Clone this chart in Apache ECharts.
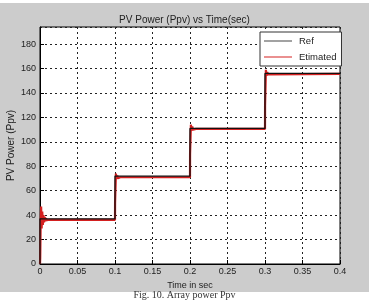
<!DOCTYPE html>
<html>
<head>
<meta charset="utf-8">
<script src="https://cdn.jsdelivr.net/npm/echarts@6/dist/echarts.min.js"></script>
<style>
  html, body { margin: 0; padding: 0; background: #fff; }
  #chart { width: 369px; height: 300px; }
</style>
</head>
<body>
<div id="chart"></div>
<script>
// reference power: step changes every 0.1 s
const refTime = [0, 0, 0.1, 0.1, 0.2, 0.2, 0.3, 0.3, 0.4]
const refPower = [0, 37, 37, 72, 72, 111, 111, 156, 156]

// estimated power: overshoot and ringing after each step
const estTime = [
  0, 0.0003, 0.0008, 0.0015, 0.0022, 0.003, 0.0038, 0.0046, 0.0054, 0.0062, 0.007, 0.008, 0.009, 0.011, 0.013,
  0.1, 0.1001, 0.1012, 0.102, 0.103, 0.104, 0.105, 0.107,
  0.2, 0.2001, 0.2012, 0.202, 0.203, 0.204, 0.206, 0.208,
  0.3, 0.3001, 0.3012, 0.302, 0.303, 0.304, 0.306, 0.4
]
const estPower = [
  0, 5, 30, 47, 29, 43, 32, 40, 34, 38.5, 35, 37.5, 35.8, 36.8, 36.2,
  36.2, 50, 74, 69.5, 72.5, 70.3, 71.6, 71,
  71, 90, 114, 109, 112.5, 110, 111, 110.6,
  110.6, 130, 159, 154, 157, 155.2, 155.7, 155.7
]

const xTicks = ['0', '0.05', '0.1', '0.15', '0.2', '0.25', '0.3', '0.35', '0.4']

const chart = echarts.init(document.getElementById('chart'))
const font = 'Liberation Sans, Arial, sans-serif'

chart.setOption({
  animation: false,
  backgroundColor: 'transparent',
  graphic: [{
    type: 'rect',
    z: -10,
    shape: { x: 0, y: 3, width: 369, height: 289 },
    style: { fill: '#cccccc' }
  }],
  title: [
    {
      text: 'PV Power (Ppv) vs Time(sec)',
      left: 'center',
      top: 10,
      textStyle: { fontFamily: font, fontSize: 10, fontWeight: 'normal', color: '#222' }
    },
    {
      text: 'Fig. 10. Array power Ppv',
      left: 'center',
      top: 290,
      padding: 0,
      textStyle: { fontFamily: 'Liberation Serif, serif', fontSize: 10, fontWeight: 'normal', color: '#333' }
    }
  ],
  legend: {
    orient: 'vertical',
    left: 260,
    top: 32,
    padding: [4, 5, 4, 4],
    icon: 'rect',
    itemWidth: 28,
    itemHeight: 1,
    itemGap: 6,
    backgroundColor: '#fff',
    borderColor: '#333',
    borderWidth: 1,
    textStyle: { fontFamily: font, fontSize: 9.5, color: '#222', padding: [0, 0, 0, 2] },
    data: ['Ref', 'Etimated']
  },
  grid: {
    left: 40, right: 29, top: 27, bottom: 36,
    outerBoundsMode: 'none',
    show: true,
    backgroundColor: '#fff',
    borderColor: '#000',
    borderWidth: 1
  },
  xAxis: {
    type: 'value',
    min: 0,
    max: 0.4,
    interval: 0.05,
    name: 'Time in sec',
    nameLocation: 'middle',
    nameGap: 17,
    nameMoveOverlap: false,
    nameTextStyle: { fontFamily: font, fontSize: 9, color: '#222' },
    axisLine: { show: true, lineStyle: { color: '#000', width: 1 } },
    axisTick: { show: true, inside: true, length: 4, lineStyle: { color: '#000' } },
    axisLabel: {
      fontFamily: font, fontSize: 9, color: '#222', margin: 3,
      formatter: (v) => {
        const i = Math.round(v / 0.05)
        return Math.abs(v - i * 0.05) < 1e-9 ? xTicks[i] : ''
      }
    },
    splitLine: { show: true, lineStyle: { color: '#222', type: [2, 3], width: 1 } }
  },
  yAxis: {
    type: 'value',
    min: 0,
    max: 194,
    interval: 20,
    name: 'PV Power (Ppv)',
    nameLocation: 'middle',
    nameGap: 24,
    nameMoveOverlap: false,
    nameTextStyle: { fontFamily: font, fontSize: 10, color: '#222' },
    axisLine: { show: true, lineStyle: { color: '#000', width: 1 } },
    axisTick: { show: true, inside: true, length: 4, lineStyle: { color: '#000' } },
    axisLabel: {
      fontFamily: font, fontSize: 9, color: '#222', margin: 4,
      showMaxLabel: false,
      formatter: (v) => (v % 20 === 0 ? String(v) : '')
    },
    splitLine: { show: true, lineStyle: { color: '#222', type: [2, 3], width: 1 } }
  },
  series: [
    {
      name: 'Etimated',
      type: 'line',
      symbol: 'none',
      z: 2,
      color: '#d42020',
      lineStyle: { color: '#d42020', width: 2.2 },
      data: estTime.map((t, i) => [t, estPower[i]])
    },
    {
      name: 'Ref',
      type: 'line',
      symbol: 'none',
      z: 3,
      color: '#444',
      lineStyle: { color: '#111', width: 1.3 },
      data: refTime.map((t, i) => [t, refPower[i]])
    }
  ]
})
</script>
</body>
</html>
